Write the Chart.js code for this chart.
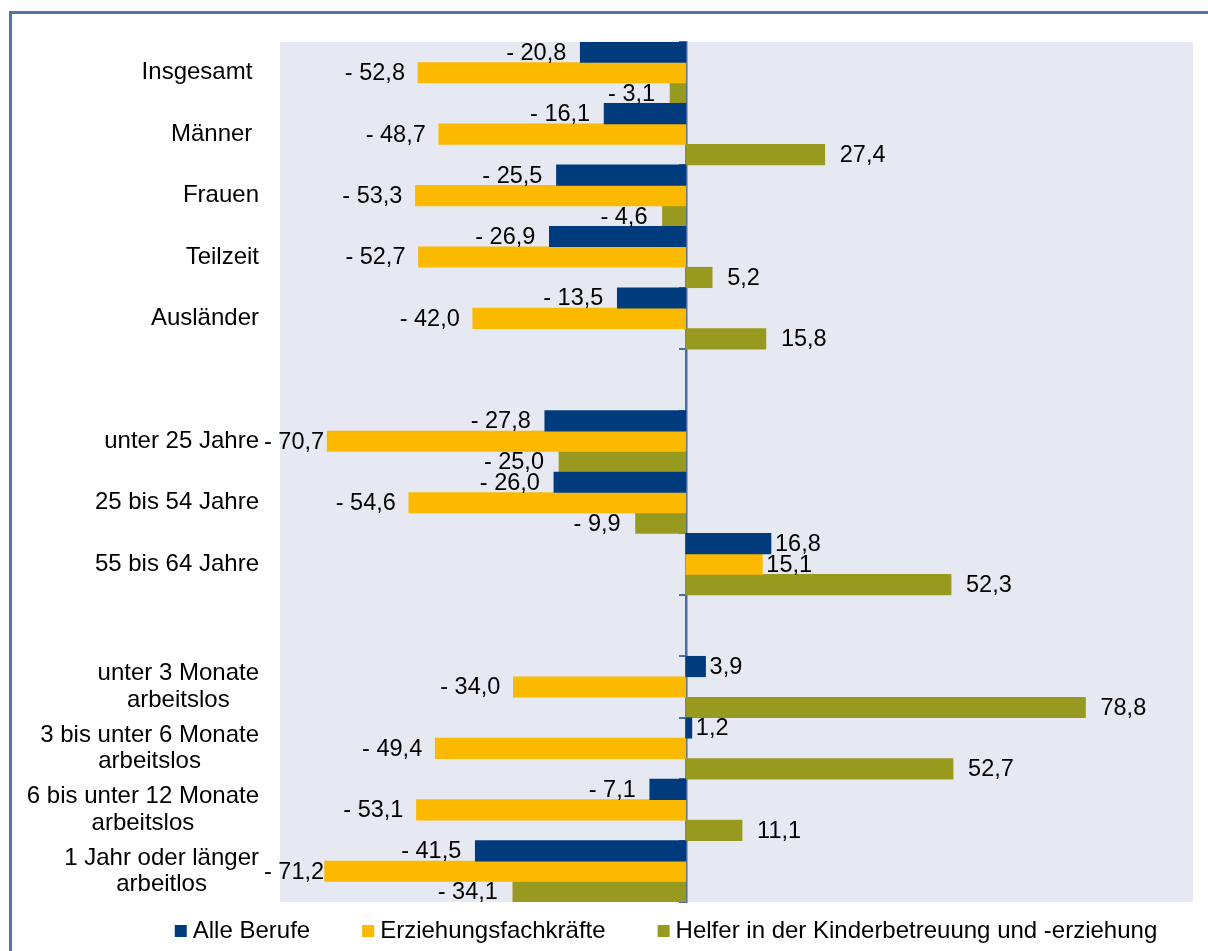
<!DOCTYPE html>
<html lang="de">
<head>
<meta charset="utf-8">
<title>Veränderung nach Personengruppen</title>
<script src="https://cdn.jsdelivr.net/npm/chart.js@4.4.1/dist/chart.umd.min.js"></script>
<style>
  html, body { margin: 0; padding: 0; background: #fff; overflow: hidden; }
  #wrap { position: relative; width: 1208px; height: 951px; }
  #frame {
    position: absolute; left: 9px; top: 11px; width: 1300px; height: 1000px;
    border-left: 3px solid #5274ab; border-top: 3px solid #5274ab;
  }
  #chart-box { position: absolute; left: 0; top: 0; width: 1208px; height: 951px; }
</style>
</head>
<body>
<div id="wrap">
  <div id="frame"></div>
  <div id="chart-box"><canvas id="changeChart"></canvas></div>
</div>
<script>
// categories (empty strings are the gaps between the groups)
const categories = [
    'Insgesamt ', 'Männer ', 'Frauen', 'Teilzeit', 'Ausländer', '',
    'unter 25 Jahre', '25 bis 54 Jahre', '55 bis 64 Jahre', '',
    ['unter 3 Monate', 'arbeitslos'],
    ['3 bis unter 6 Monate', 'arbeitslos'],
    ['6 bis unter 12 Monate', 'arbeitslos'],
    ['1 Jahr oder länger', 'arbeitlos']
];
const seriesNames = ['Alle Berufe', 'Erziehungsfachkräfte', 'Helfer in der Kinderbetreuung und -erziehung'];
const alleBerufe = [-20.8, -16.1, -25.5, -26.9, -13.5, null, -27.8, -26.0, 16.8, null, 3.9, 1.2, -7.1, -41.5];
const erziehung = [-52.8, -48.7, -53.3, -52.7, -42.0, null, -70.7, -54.6, 15.1, null, -34.0, -49.4, -53.1, -71.2];
const helfer = [-3.1, 27.4, -4.6, 5.2, 15.8, null, -25.0, -9.9, 52.3, null, 78.8, 52.7, 11.1, -34.1];
const xMin = -80;
const xMax = 100;

const FONT = '"Liberation Sans", Arial, sans-serif';

function formatValue(v) {
    const s = Math.abs(v).toFixed(1).replace('.', ',');
    return v < 0 ? '- ' + s : s;
}

const plotBackground = {
    id: 'plotBackground',
    beforeDraw(chart) {
        const { ctx, chartArea: a } = chart;
        ctx.save();
        ctx.fillStyle = '#e6e9f1';
        ctx.fillRect(a.left, a.top, a.right - a.left, a.bottom - a.top);
        ctx.restore();
    }
};

const valueLabels = {
    id: 'valueLabels',
    afterDatasetsDraw(chart) {
        const ctx = chart.ctx;
        ctx.save();
        ctx.font = '23.5px ' + FONT;
        ctx.fillStyle = '#000';
        ctx.textBaseline = 'middle';
        chart.data.datasets.forEach((ds, di) => {
            const meta = chart.getDatasetMeta(di);
            meta.data.forEach((bar, i) => {
                const v = ds.data[i];
                if (v === null) return;
                const text = formatValue(v);
                if (v < 0) {
                    const w = ctx.measureText(text).width;
                    let x = bar.x - ds.labelGap;
                    if (x - w < 264) x = 264 + w;
                    ctx.textAlign = 'right';
                    ctx.fillText(text, x, bar.y + 1);
                } else {
                    ctx.textAlign = 'left';
                    ctx.fillText(text, bar.x + (ds.posGap ?? ds.labelGap), bar.y + 1);
                }
            });
        });
        ctx.restore();
    }
};

const categoryLabels = {
    id: 'categoryLabels',
    afterDraw(chart) {
        const ctx = chart.ctx;
        const yScale = chart.scales.y;
        const right = chart.chartArea.left - 21;
        ctx.save();
        ctx.font = '24px ' + FONT;
        ctx.fillStyle = '#000';
        ctx.textAlign = 'center';
        ctx.textBaseline = 'middle';
        categories.forEach((lab, i) => {
            const lines = Array.isArray(lab) ? lab : [lab];
            const yc = yScale.getPixelForValue(i);
            const w = Math.max(...lines.map(l => ctx.measureText(l).width));
            const cx = right - w / 2;
            lines.forEach((l, j) => {
                ctx.fillText(l, cx, yc + (j - (lines.length - 1) / 2) * 26.5);
            });
        });
        ctx.restore();
    }
};

const bottomLegend = {
    id: 'bottomLegend',
    afterDraw(chart) {
        const ctx = chart.ctx;
        const box = 12, boxGap = 6, itemGap = 52, y = 931;
        ctx.save();
        ctx.font = '24px ' + FONT;
        ctx.textBaseline = 'middle';
        ctx.textAlign = 'left';
        const widths = chart.data.datasets.map(ds => box + boxGap + ctx.measureText(ds.label).width);
        const total = widths.reduce((a, b) => a + b, 0) + itemGap * (widths.length - 1);
        let x = chart.width / 2 + 62 - total / 2;
        chart.data.datasets.forEach((ds, i) => {
            ctx.fillStyle = ds.backgroundColor;
            ctx.fillRect(x, y - 6, box, box);
            ctx.fillStyle = '#000';
            ctx.fillText(ds.label, x + box + boxGap, y);
            x += widths[i] + itemGap;
        });
        ctx.restore();
    }
};

document.addEventListener('DOMContentLoaded', function() {
    const ctx = document.getElementById('changeChart').getContext('2d');

    new Chart(ctx, {
        type: 'bar',
        data: {
            labels: categories,
            datasets: [
                { label: seriesNames[0], data: alleBerufe, backgroundColor: '#003c7d', labelGap: 14, posGap: 4 },
                { label: seriesNames[1], data: erziehung, backgroundColor: '#fbb900', labelGap: 13, posGap: 4 },
                { label: seriesNames[2], data: helfer, backgroundColor: '#989a1f', labelGap: 15 }
            ]
        },
        options: {
            indexAxis: 'y',
            responsive: true,
            maintainAspectRatio: false,
            animation: false,
            layout: {
                padding: { left: 280, right: 15, top: 42, bottom: 49 }
            },
            datasets: {
                bar: {
                    barPercentage: 1,
                    categoryPercentage: 1,
                    borderWidth: 0
                }
            },
            scales: {
                x: {
                    type: 'linear',
                    min: xMin,
                    max: xMax,
                    display: false
                },
                y: {
                    type: 'category',
                    position: { x: 0 },
                    ticks: { display: false },
                    grid: {
                        drawOnChartArea: false,
                        color: '#4a6ba9',
                        lineWidth: 2,
                        tickLength: 6
                    },
                    border: { color: '#4a6ba9', width: 2.5 }
                }
            },
            plugins: {
                legend: { display: false },
                tooltip: { enabled: false }
            }
        },
        plugins: [plotBackground, valueLabels, categoryLabels, bottomLegend]
    });
});
</script>
</body>
</html>
